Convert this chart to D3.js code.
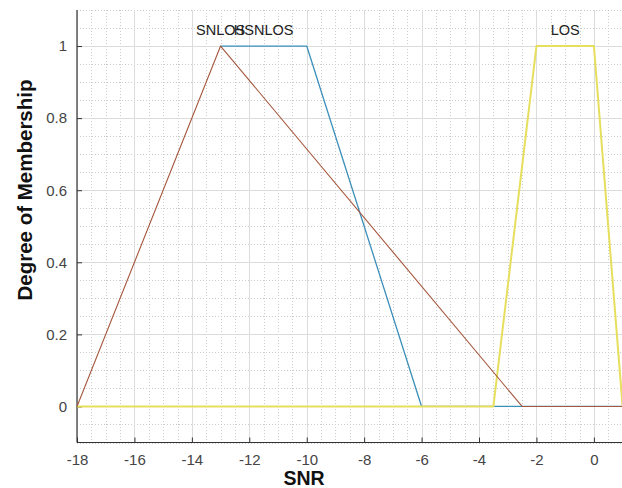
<!DOCTYPE html>
<html>
<head>
<meta charset="utf-8">
<script src="https://cdn.jsdelivr.net/npm/d3@7"></script>
<style>
  html, body { margin: 0; padding: 0; background: #fff; }
  svg { display: block; font-family: "Liberation Sans", Arial, sans-serif; }
</style>
</head>
<body>
<svg id="chart" width="622" height="488"></svg>
<script>
// Membership functions over SNR
const xTicks = [-18, -16, -14, -12, -10, -8, -6, -4, -2, 0];
const yTicks = [0, 0.2, 0.4, 0.6, 0.8, 1];
const xDomain = [-18, 1];
const yDomain = [-0.1, 1.1];

const mfNames = ["SNLOS", "HSNLOS", "LOS"];
const snlosX = [-18, -13, -2.5, 1];
const snlosY = [0, 1, 0, 0];
const hsnlosX = [-13, -10, -6, 1];
const hsnlosY = [1, 1, 0, 0];
const losX = [-18, -3.5, -2, 0, 1];
const losY = [0, 0, 1, 1, 0];
// x of each label's centre
const labelX = [-13, -11.5, -1];

const svg = d3.select("#chart");
const plotL = 77, plotR = 622.6, plotT = 10, plotB = 442.5;

const x = d3.scaleLinear().domain(xDomain).range([plotL, plotR]);
const y = d3.scaleLinear().domain(yDomain).range([plotB, plotT]);

const g = svg.append("g");

// minor grid
const minorX = d3.range(-18, 1.0001, 0.5).filter(v => Math.abs(v % 2) > 1e-9);
const minorY = d3.range(-0.1, 1.1001, 0.05).map(v => +v.toFixed(2))
  .filter(v => Math.abs(Math.round(v * 100) % 20) > 0);
g.selectAll(".mx").data(minorX).enter().append("line")
  .attr("x1", d => Math.round(x(d)) + 0.5).attr("x2", d => Math.round(x(d)) + 0.5)
  .attr("y1", plotT).attr("y2", plotB)
  .attr("stroke", "#cccccc").attr("stroke-width", 1).attr("stroke-dasharray", "1,2");
g.selectAll(".my").data(minorY).enter().append("line")
  .attr("x1", plotL).attr("x2", plotR)
  .attr("y1", d => Math.round(y(d)) + 0.5).attr("y2", d => Math.round(y(d)) + 0.5)
  .attr("stroke", "#cccccc").attr("stroke-width", 1).attr("stroke-dasharray", "1,2");

// major grid
g.selectAll(".gx").data(xTicks).enter().append("line")
  .attr("x1", d => Math.round(x(d)) + 0.5).attr("x2", d => Math.round(x(d)) + 0.5)
  .attr("y1", plotT).attr("y2", plotB)
  .attr("stroke", "#dcdcdc").attr("stroke-width", 1);
g.selectAll(".gy").data(yTicks).enter().append("line")
  .attr("x1", plotL).attr("x2", plotR)
  .attr("y1", d => Math.round(y(d)) + 0.5).attr("y2", d => Math.round(y(d)) + 0.5)
  .attr("stroke", "#dcdcdc").attr("stroke-width", 1);

// axes
const xAxis = d3.axisBottom(x).tickValues(xTicks).tickSize(-5).tickPadding(12)
  .tickFormat(d => String(d));
const yAxis = d3.axisLeft(y).tickValues(yTicks).tickSize(-5).tickPadding(10)
  .tickFormat(d => d === 0 || d === 1 ? String(d) : d.toFixed(1));

const gx = svg.append("g").attr("transform", `translate(0,${plotB})`).call(xAxis);
const gy = svg.append("g").attr("transform", `translate(${plotL},0)`).call(yAxis);
[gx, gy].forEach(a => {
  a.select(".domain").attr("stroke", "#333").attr("stroke-width", 1.2);
  a.selectAll(".tick line").attr("stroke", "#333");
  a.selectAll(".tick text").attr("fill", "#444").attr("font-size", 15)
    .attr("font-family", "'Liberation Sans', Arial, sans-serif");
});
gy.select(".domain").attr("d", `M0,${plotT}V${plotB}`);
gx.select(".domain").attr("d", `M${plotL},0H${plotR}`);

// membership curves
const line = d3.line().x(d => x(d[0])).y(d => y(d[1]));
const series = [
  { pts: d3.zip(hsnlosX, hsnlosY), color: "#3b8fba", w: 1.3 },
  { pts: d3.zip(losX, losY), color: "#e6df5e", w: 2 },
  { pts: d3.zip(snlosX, snlosY), color: "#a4573c", w: 1.1 }
];
svg.append("g").selectAll("path").data(series).enter().append("path")
  .attr("d", d => line(d.pts))
  .attr("fill", "none")
  .attr("stroke", d => d.color)
  .attr("stroke-width", d => d.w)
  .attr("stroke-linejoin", "round");

// function names
svg.append("g").selectAll("text").data(mfNames).enter().append("text")
  .attr("x", (d, i) => x(labelX[i]))
  .attr("y", y(1) - 11)
  .attr("text-anchor", "middle")
  .attr("font-size", 14.5)
  .attr("fill", "#222")
  .text(d => d);

// axis titles
svg.append("text")
  .attr("x", 304).attr("y", 485)
  .attr("text-anchor", "middle")
  .attr("font-size", 19.5).attr("font-weight", "bold")
  .attr("fill", "#111")
  .text("SNR");
svg.append("text")
  .attr("transform", "translate(32,190) rotate(-90)")
  .attr("text-anchor", "middle")
  .attr("font-size", 20.5).attr("font-weight", "bold")
  .attr("fill", "#111")
  .text("Degree of Membership");
</script>
</body>
</html>
